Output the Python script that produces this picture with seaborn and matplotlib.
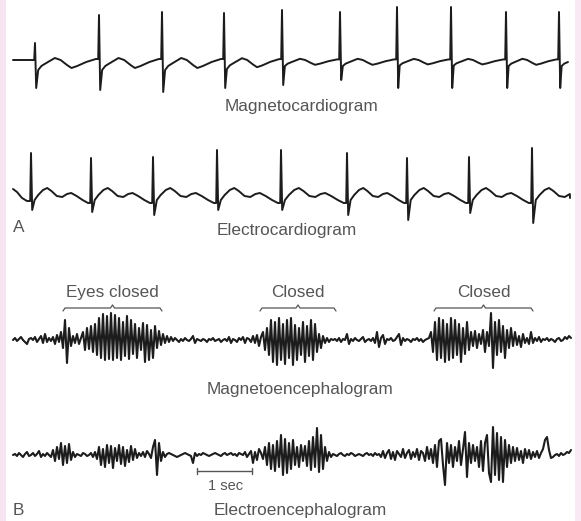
import numpy as np
import pandas as pd
import matplotlib
matplotlib.use("Agg")
import matplotlib.pyplot as plt
import seaborn as sns

# ---- cardiac traces (x positions in image px, amplitudes in px, up = positive) ----
mcg_baseline = 60
mcg_r_x = [35, 99, 162, 224, 282, 340, 397, 451, 506, 559]
mcg_up = [17, 45, 48, 47, 50, 48, 53, 53, 48, 48]
mcg_down = [28, 30, 32, 28, 25, 20, 28, 28, 28, 28]
mcg_wave = [1.0, 1.0, 1.0, 0.9, 0.6, 0.6, 0.55, 0.55, 0.6, 0.6]
mcg_gap_frac = [0.05, 0.10, 0.15, 0.23, 0.31, 0.40, 0.50, 0.57, 0.66, 0.80, 0.95]
mcg_gap_amp = [-10, -6, -4, -1, 2, 0, -5, -8, -6, -2, 1]

ecg_baseline = 197
ecg_r_x = [31, 91, 153, 217, 281, 347, 407, 469, 532]
ecg_up = [44, 39, 40, 47, 47, 44, 39, 40, 49]
ecg_down = [13, 15, 18, 13, 13, 18, 23, 16, 26]
ecg_wave = [1.0] * 9
ecg_gap_frac = [0.06, 0.12, 0.20, 0.27, 0.34, 0.43, 0.52, 0.60, 0.67, 0.76, 0.86, 0.95]
ecg_gap_amp = [-3, 2, 7, 9, 6, 1, 0, 3, 4, 1, -3, -6]

# ---- brain traces: one sample every 2 px from x = 13 ----
meg_baseline = 340
meg_amp = [
    0, 2, -1, 1, 3, 0, -2, -4, 1, 2,
    0, 3, -2, 1, 4, -3, 6, -2, 2, -1,
    3, -4, 5, -2, 8, -8, 20, -23, 12, -6,
    4, -3, 6, -4, 2, 8, -10, 12, -9, 14,
    -12, 16, -15, 22, -18, 26, -20, 24, -19, 27,
    -20, 25, -18, 22, -20, 18, -16, 24, -19, 20,
    -14, 16, -18, 12, -10, 17, -22, 15, -20, 10,
    -18, 14, -8, 9, -5, 6, -3, 4, -2, 3,
    -1, 2, 0, -2, 1, -1, 2, 0, -1, 1,
    4, -3, 1, 0, -1, 1, 0, -2, 1, 0,
    2, -1, 0, 1, -2, 0, 1, -1, 3, -3,
    1, 0, -2, 2, 0, 3, -3, 2, 1, -2,
    4, -3, 5, -6, 3, 8, -10, 12, -15, 20,
    -22, 18, -25, 22, -20, 16, -24, 20, -18, 22,
    -25, 15, -20, 12, -15, 18, -22, 14, -16, 20,
    -20, 16, -12, 6, -8, 4, -3, 2, -2, 1,
    0, 1, -1, 2, -2, 1, 0, 6, -4, 1,
    -1, 2, 0, -1, 1, 3, -2, 0, 1, -1,
    2, -3, 8, -7, 2, 5, -4, 1, 0, 2,
    -1, 0, 3, 6, -5, 2, -1, 1, 0, -2,
    1, 0, 2, -1, 1, -2, 0, 1, 2, 8,
    -12, 18, -20, 22, -18, 20, -22, 16, -20, 22,
    -18, 20, -15, 16, -22, 12, -14, 18, -10, 8,
    -6, 9, -8, 6, -4, 10, -12, 8, -6, 27,
    -28, 18, -15, 20, -12, 14, -18, 10, -8, 12,
    -6, 8, -5, 4, -7, 6, -3, 2, -4, 8,
    -3, 2, -1, 3, -2, 1, 0, 2, -1, 1,
    0, -2, 1, 2, -1, 0, 3, 1, 4, 2,
]
eeg_baseline = 455
eeg_amp = [
    0, 1, -1, 2, 0, -2, 1, 3, -1, 0,
    2, -1, 1, 4, -2, 1, -1, 2, 0, -2,
    5, -6, 8, -4, 12, -10, 9, -8, 11, -5,
    3, -2, 1, 0, -1, 2, 1, -1, 0, 2,
    -2, 3, -4, 8, -10, 6, -12, 10, -8, 9,
    -13, 7, -6, 10, -9, 8, -11, 5, -7, 9,
    -5, 6, -3, 2, -1, 3, -2, 4, 1, -3,
    8, 15, -20, 12, -6, 3, -2, 1, 2, 1,
    0, -1, -2, -1, 0, 1, 2, 1, 0, -1,
    -8, 2, -1, 1, 0, 2, 1, 0, -1, 0,
    1, 2, 1, 0, -1, 1, 2, 0, 1, 2,
    0, 1, -1, 2, 1, 0, 3, -2, 1, 4,
    -8, 3, -5, 6, 2, -4, 8, -10, 12, -14,
    10, -16, 14, -12, 20, -20, 16, -18, 12, -14,
    15, -10, 8, -12, 10, -6, 9, -11, 14, -15,
    18, -12, 27, -17, 20, -14, 8, -6, 3, -2,
    1, 0, -1, 1, 2, 0, -1, 1, 0, 2,
    1, -1, 0, 1, 0, -1, 1, 2, 0, 1,
    -1, 2, 0, 1, -2, 4, -3, 2, 5, -4,
    3, -5, 4, 1, -2, 6, -3, 2, 5, -4,
    3, -2, 6, -5, 4, 2, -6, 8, -4, 6,
    -8, 10, -12, 14, 16, -10, -30, 12, -8, 10,
    -12, 8, -6, 14, -10, 6, 23, -22, 12, -8,
    10, -6, 8, -12, 14, -16, 12, 20, -18, -27,
    28, -20, 22, -25, 18, -27, 15, -12, 10, -8,
    8, -6, 7, -5, 4, -8, 6, -3, 5, -4,
    3, -2, 4, -3, 2, 6, 15, 18, 5, -3,
    -2, 0, 1, -1, 2, 0, 1, 3, 2, 5,
]

# ---- annotations ----
bracket_labels = ["Eyes closed", "Closed", "Closed"]
bracket_spans = [(63, 162), (260, 336), (434, 533)]
trace_labels = ["Magnetocardiogram", "Electrocardiogram", "Magnetoencephalogram", "Electroencephalogram"]


def cardiac(r_x, up, down, wave, frac, amp, start_pts, end_pt):
    xs = [p[0] for p in start_pts]
    ys = [p[1] for p in start_pts]
    for i, r in enumerate(r_x):
        xs += [r - 0.8, r, r + 1.2]
        ys += [ys[-1], up[i], -down[i]]
        rr = r_x[i + 1] - r if i + 1 < len(r_x) else r - r_x[i - 1]
        for f, a in zip(frac, amp):
            t = r + f * rr
            if t >= end_pt[0]:
                break
            xs.append(t)
            ys.append(a * wave[i])
    xs.append(end_pt[0])
    ys.append(end_pt[1])
    return np.array(xs), np.array(ys)


mx, my = cardiac(mcg_r_x, mcg_up, mcg_down, mcg_wave, mcg_gap_frac, mcg_gap_amp,
                 [(13, 0), (33, 0)], (568, -2))
ex, ey = cardiac(ecg_r_x, ecg_up, ecg_down, ecg_wave, ecg_gap_frac, ecg_gap_amp,
                 [(13, 8), (17, 5), (22, -1), (27, -4)], (570, -1))
bx = 13 + 2 * np.arange(len(meg_amp))

heart = pd.concat([
    pd.DataFrame({"x": mx, "y": mcg_baseline - my, "trace": "MCG"}),
    pd.DataFrame({"x": ex, "y": ecg_baseline - ey, "trace": "ECG"}),
])
brain = pd.concat([
    pd.DataFrame({"x": bx, "y": meg_baseline - np.array(meg_amp), "trace": "MEG"}),
    pd.DataFrame({"x": bx, "y": eeg_baseline - np.array(eeg_amp), "trace": "EEG"}),
])

sns.set_theme(style="white")
plt.rcParams['font.family'] = ['Liberation Sans', 'DejaVu Sans']

fig = plt.figure(figsize=(5.81, 5.21), dpi=100)
ax = fig.add_axes([0, 0, 1, 1])

sns.lineplot(data=heart, x="x", y="y", units="trace", estimator=None, sort=False,
             color="#1c1c1c", lw=1.4, legend=False, ax=ax)
sns.lineplot(data=brain, x="x", y="y", units="trace", estimator=None, sort=False,
             color="#1c1c1c", lw=1.5, legend=False, ax=ax)

# brackets over the eyes-closed periods
for (x0, x1), lab in zip(bracket_spans, bracket_labels):
    mid = (x0 + x1) / 2
    ax.plot([x0, x0 + 2, mid - 2, mid, mid + 2, x1 - 2, x1],
            [311, 308, 308, 305, 308, 308, 311], color="#555555", lw=0.9)
    ax.text(mid, 297, lab, ha="center", va="baseline", fontsize=12.3, color="#555555")

# 1 sec scale bar
ax.plot([197, 252], [471, 471], color="#555555", lw=1.0)
ax.plot([197, 197], [468, 474], color="#555555", lw=1.0)
ax.plot([252, 252], [468, 474], color="#555555", lw=1.0)
ax.text(226, 490, "1 sec", ha="center", va="baseline", fontsize=10.5, color="#555555")

label_pos = [(301, 111), (287, 235), (300, 394), (300, 515)]
for (x, y), lab in zip(label_pos, trace_labels):
    ax.text(x, y, lab, ha="center", va="baseline", fontsize=12.4, color="#555555")
ax.text(13, 232, "A", ha="left", va="baseline", fontsize=12.4, color="#555555")
ax.text(13, 515, "B", ha="left", va="baseline", fontsize=12.4, color="#555555")

# pink scan edges
ax.axvspan(0, 6, color="#f6e4f3", lw=0)
ax.axvspan(575, 581, color="#f8e9f5", lw=0)

ax.set_xlim(0, 581)
ax.set_ylim(521, 0)
ax.axis("off")
fig.savefig("out.png", dpi=100)
